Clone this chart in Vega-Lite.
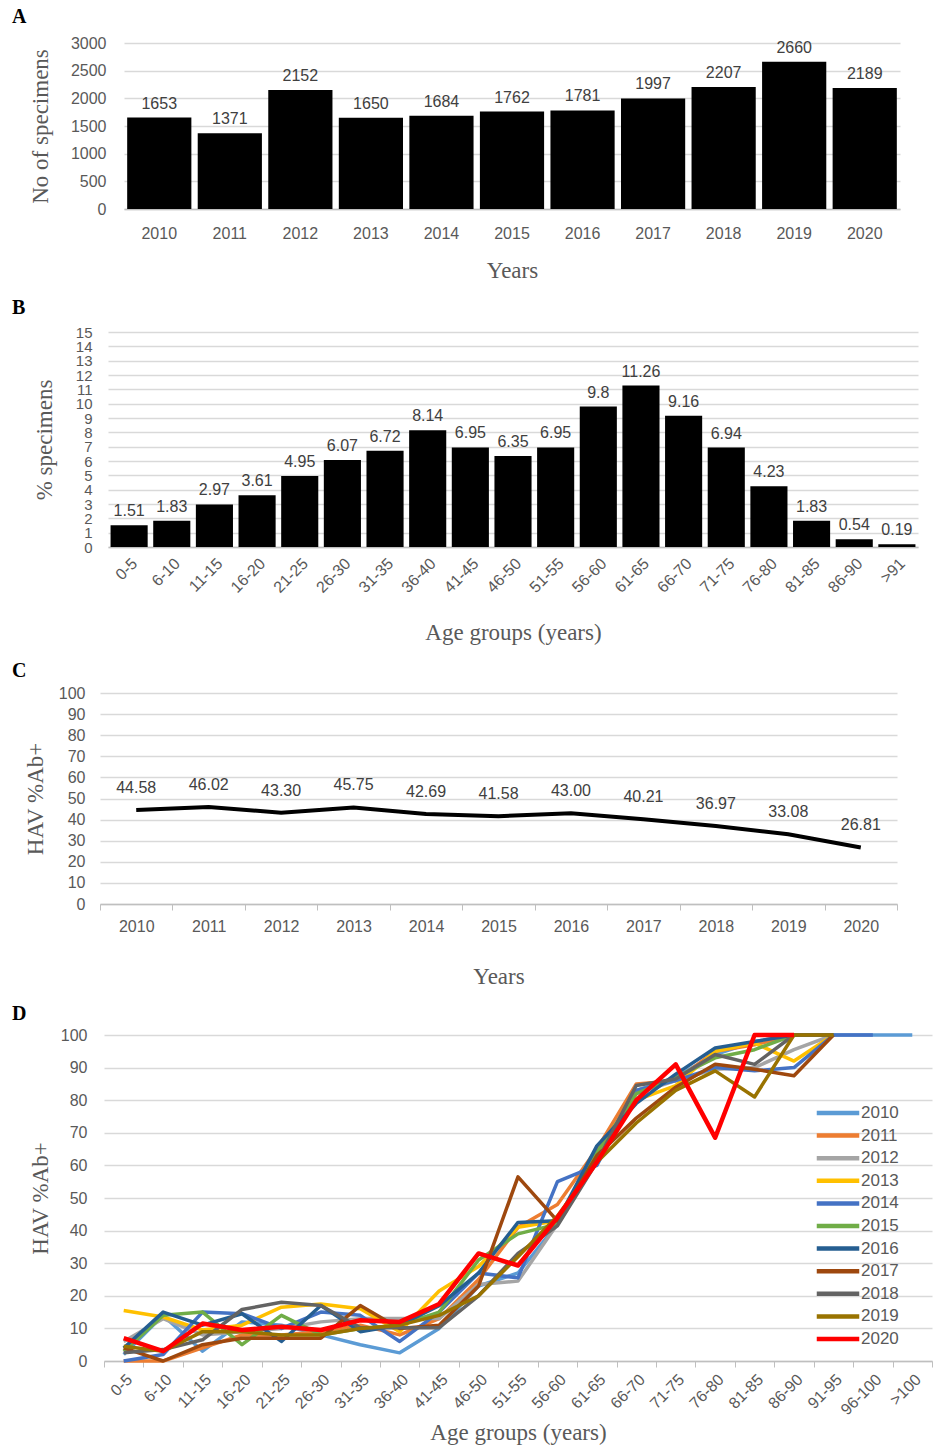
{
  "$schema": "https://vega.github.io/schema/vega-lite/v6.json",
  "background": "white",
  "padding": {"left": 12, "top": 7, "right": 0, "bottom": 0},
  "columns": 1,
  "align": "none",
  "spacing": 16,
  "resolve": {"legend": {"color": "independent"}},
  "config": {
    "view": {"stroke": null},
    "axis": {
      "labelFont": "Liberation Sans", "labelColor": "#595959", "labelFontSize": 16,
      "titleFont": "Liberation Serif", "titleColor": "#595959", "titleFontWeight": "normal", "titleFontSize": 23,
      "gridColor": "#D9D9D9", "gridWidth": 1.3, "domainColor": "#BFBFBF", "domainWidth": 1.3, "tickColor": "#BFBFBF"
    },
    "title": {"font": "Liberation Serif", "fontSize": 20, "fontWeight": "bold", "color": "black", "anchor": "start", "frame": "group"}
  },
  "concat": [
    {
      "title": {"text": "A", "offset": 8, "dx": -88},
      "width": 800, "height": 166,
      "data": {"values": [
        {"year": "2010", "n": 1653}, {"year": "2011", "n": 1371}, {"year": "2012", "n": 2152},
        {"year": "2013", "n": 1650}, {"year": "2014", "n": 1684}, {"year": "2015", "n": 1762},
        {"year": "2016", "n": 1781}, {"year": "2017", "n": 1997}, {"year": "2018", "n": 2207},
        {"year": "2019", "n": 2660}, {"year": "2020", "n": 2189}
      ]},
      "encoding": {
        "x": {"field": "year", "type": "ordinal", "scale": {"range": [24, 800], "paddingInner": 0.09, "paddingOuter": 0.045},
              "axis": {"labelAngle": 0, "title": "Years", "ticks": false, "labelPadding": 16, "titlePadding": 18}},
        "y": {"field": "n", "type": "quantitative", "scale": {"domain": [0, 3000]},
              "axis": {"values": [0, 500, 1000, 1500, 2000, 2500, 3000], "format": "d", "title": "No of specimens", "domain": false, "ticks": false, "offset": -24, "labelPadding": 18, "titlePadding": 18}}
      },
      "layer": [
        {"mark": {"type": "bar", "color": "black"}},
        {"mark": {"type": "text", "dy": -14, "font": "Liberation Sans", "fontSize": 16, "color": "#404040"},
         "encoding": {"text": {"field": "n", "type": "quantitative", "format": "d"}}}
      ]
    },
    {
      "title": {"text": "B", "offset": 7, "dx": -88},
      "width": 818, "height": 215,
      "data": {"values": [
        {"age": "0-5", "p": 1.51}, {"age": "6-10", "p": 1.83}, {"age": "11-15", "p": 2.97},
        {"age": "16-20", "p": 3.61}, {"age": "21-25", "p": 4.95}, {"age": "26-30", "p": 6.07},
        {"age": "31-35", "p": 6.72}, {"age": "36-40", "p": 8.14}, {"age": "41-45", "p": 6.95},
        {"age": "46-50", "p": 6.35}, {"age": "51-55", "p": 6.95}, {"age": "56-60", "p": 9.8},
        {"age": "61-65", "p": 11.26}, {"age": "66-70", "p": 9.16}, {"age": "71-75", "p": 6.94},
        {"age": "76-80", "p": 4.23}, {"age": "81-85", "p": 1.83}, {"age": "86-90", "p": 0.54},
        {"age": ">91", "p": 0.19}
      ]},
      "encoding": {
        "x": {"field": "age", "type": "ordinal", "sort": null, "scale": {"range": [8, 818], "paddingInner": 0.13, "paddingOuter": 0.06},
              "axis": {"labelAngle": -45, "title": "Age groups (years)", "ticks": false, "labelPadding": 8, "titlePadding": 26}},
        "y": {"field": "p", "type": "quantitative", "scale": {"domain": [0, 15]},
              "axis": {"values": [0,1,2,3,4,5,6,7,8,9,10,11,12,13,14,15], "labelOverlap": false, "labelFontSize": 15, "title": "% specimens", "domain": false, "ticks": false, "offset": -8, "labelPadding": 16, "titlePadding": 19}}
      },
      "layer": [
        {"mark": {"type": "bar", "color": "black"}},
        {"mark": {"type": "text", "dy": -14, "font": "Liberation Sans", "fontSize": 16, "color": "#404040"},
         "encoding": {"text": {"field": "p", "type": "nominal"}}}
      ]
    },
    {
      "title": {"text": "C", "offset": 4, "dx": -88},
      "width": 797, "height": 211,
      "data": {"values": [
        {"year": "2010", "v": 44.58}, {"year": "2011", "v": 46.02}, {"year": "2012", "v": 43.30},
        {"year": "2013", "v": 45.75}, {"year": "2014", "v": 42.69}, {"year": "2015", "v": 41.58},
        {"year": "2016", "v": 43.00}, {"year": "2017", "v": 40.21}, {"year": "2018", "v": 36.97},
        {"year": "2019", "v": 33.08}, {"year": "2020", "v": 26.81}
      ]},
      "encoding": {
        "x": {"field": "year", "type": "ordinal", "bandPosition": 0.5, "scale": {"type": "band", "paddingInner": 0, "paddingOuter": 0},
              "axis": {"labelAngle": 0, "title": "Years", "tickBand": "extent", "ticks": true, "tickSize": 6, "labelPadding": 8, "titlePadding": 31}},
        "y": {"field": "v", "type": "quantitative", "scale": {"domain": [0, 100]},
              "axis": {"values": [0,10,20,30,40,50,60,70,80,90,100], "title": "HAV %Ab+", "domain": false, "ticks": false, "labelPadding": 15, "titlePadding": 11}}
      },
      "layer": [
        {"mark": {"type": "line", "color": "black", "strokeWidth": 4}},
        {"mark": {"type": "text", "dy": -22, "font": "Liberation Sans", "fontSize": 16, "color": "#404040"},
         "encoding": {"text": {"field": "v", "type": "quantitative", "format": ".2f"}}}
      ]
    },
    {
      "title": {"text": "D", "offset": 3, "dx": -88},
      "width": 832, "height": 326,
      "data": {"values": [
        {"y":"2010","a":"0-5","v":2},{"y":"2010","a":"6-10","v":14},{"y":"2010","a":"11-15","v":3},{"y":"2010","a":"16-20","v":12},{"y":"2010","a":"21-25","v":11},{"y":"2010","a":"26-30","v":8},{"y":"2010","a":"31-35","v":5},{"y":"2010","a":"36-40","v":2.5},{"y":"2010","a":"41-45","v":10},{"y":"2010","a":"46-50","v":23},{"y":"2010","a":"51-55","v":27},{"y":"2010","a":"56-60","v":42},{"y":"2010","a":"61-65","v":63},{"y":"2010","a":"66-70","v":83},{"y":"2010","a":"71-75","v":87},{"y":"2010","a":"76-80","v":94},{"y":"2010","a":"81-85","v":98},{"y":"2010","a":"86-90","v":100},{"y":"2010","a":"91-95","v":100},{"y":"2010","a":"96-100","v":100},{"y":"2010","a":">100","v":100},
        {"y":"2011","a":"0-5","v":0},{"y":"2011","a":"6-10","v":0},{"y":"2011","a":"11-15","v":4},{"y":"2011","a":"16-20","v":8},{"y":"2011","a":"21-25","v":8},{"y":"2011","a":"26-30","v":9},{"y":"2011","a":"31-35","v":11},{"y":"2011","a":"36-40","v":8},{"y":"2011","a":"41-45","v":13},{"y":"2011","a":"46-50","v":25},{"y":"2011","a":"51-55","v":41},{"y":"2011","a":"56-60","v":48},{"y":"2011","a":"61-65","v":65},{"y":"2011","a":"66-70","v":85},{"y":"2011","a":"71-75","v":86},{"y":"2011","a":"76-80","v":95},{"y":"2011","a":"81-85","v":97},{"y":"2011","a":"86-90","v":100},{"y":"2011","a":"91-95","v":100},
        {"y":"2012","a":"0-5","v":6},{"y":"2012","a":"6-10","v":13},{"y":"2012","a":"11-15","v":8},{"y":"2012","a":"16-20","v":9},{"y":"2012","a":"21-25","v":10},{"y":"2012","a":"26-30","v":12},{"y":"2012","a":"31-35","v":13},{"y":"2012","a":"36-40","v":13},{"y":"2012","a":"41-45","v":13},{"y":"2012","a":"46-50","v":23.5},{"y":"2012","a":"51-55","v":24.5},{"y":"2012","a":"56-60","v":42},{"y":"2012","a":"61-65","v":62},{"y":"2012","a":"66-70","v":82},{"y":"2012","a":"71-75","v":86},{"y":"2012","a":"76-80","v":89.5},{"y":"2012","a":"81-85","v":90},{"y":"2012","a":"86-90","v":95.5},{"y":"2012","a":"91-95","v":100},
        {"y":"2013","a":"0-5","v":15.5},{"y":"2013","a":"6-10","v":13.5},{"y":"2013","a":"11-15","v":9.5},{"y":"2013","a":"16-20","v":11},{"y":"2013","a":"21-25","v":16.5},{"y":"2013","a":"26-30","v":17.5},{"y":"2013","a":"31-35","v":16},{"y":"2013","a":"36-40","v":9},{"y":"2013","a":"41-45","v":21.5},{"y":"2013","a":"46-50","v":29},{"y":"2013","a":"51-55","v":41},{"y":"2013","a":"56-60","v":43},{"y":"2013","a":"61-65","v":63},{"y":"2013","a":"66-70","v":80},{"y":"2013","a":"71-75","v":84.5},{"y":"2013","a":"76-80","v":95},{"y":"2013","a":"81-85","v":97.5},{"y":"2013","a":"86-90","v":92},{"y":"2013","a":"91-95","v":100},
        {"y":"2014","a":"0-5","v":0},{"y":"2014","a":"6-10","v":2},{"y":"2014","a":"11-15","v":15},{"y":"2014","a":"16-20","v":14.5},{"y":"2014","a":"21-25","v":10},{"y":"2014","a":"26-30","v":15},{"y":"2014","a":"31-35","v":14},{"y":"2014","a":"36-40","v":6},{"y":"2014","a":"41-45","v":15},{"y":"2014","a":"46-50","v":27},{"y":"2014","a":"51-55","v":25.5},{"y":"2014","a":"56-60","v":55},{"y":"2014","a":"61-65","v":60},{"y":"2014","a":"66-70","v":83},{"y":"2014","a":"71-75","v":86},{"y":"2014","a":"76-80","v":90},{"y":"2014","a":"81-85","v":89},{"y":"2014","a":"86-90","v":90},{"y":"2014","a":"91-95","v":100},{"y":"2014","a":"96-100","v":100},
        {"y":"2015","a":"0-5","v":3},{"y":"2015","a":"6-10","v":14},{"y":"2015","a":"11-15","v":15},{"y":"2015","a":"16-20","v":5},{"y":"2015","a":"21-25","v":14},{"y":"2015","a":"26-30","v":8},{"y":"2015","a":"31-35","v":10},{"y":"2015","a":"36-40","v":11},{"y":"2015","a":"41-45","v":15},{"y":"2015","a":"46-50","v":31},{"y":"2015","a":"51-55","v":39},{"y":"2015","a":"56-60","v":42},{"y":"2015","a":"61-65","v":64},{"y":"2015","a":"66-70","v":82},{"y":"2015","a":"71-75","v":87},{"y":"2015","a":"76-80","v":93},{"y":"2015","a":"81-85","v":95.5},{"y":"2015","a":"86-90","v":100},{"y":"2015","a":"91-95","v":100},
        {"y":"2016","a":"0-5","v":4},{"y":"2016","a":"6-10","v":15},{"y":"2016","a":"11-15","v":11},{"y":"2016","a":"16-20","v":14.5},{"y":"2016","a":"21-25","v":6},{"y":"2016","a":"26-30","v":17},{"y":"2016","a":"31-35","v":9},{"y":"2016","a":"36-40","v":11},{"y":"2016","a":"41-45","v":17},{"y":"2016","a":"46-50","v":27},{"y":"2016","a":"51-55","v":42.5},{"y":"2016","a":"56-60","v":43},{"y":"2016","a":"61-65","v":66},{"y":"2016","a":"66-70","v":79},{"y":"2016","a":"71-75","v":88},{"y":"2016","a":"76-80","v":96},{"y":"2016","a":"81-85","v":98},{"y":"2016","a":"86-90","v":100},{"y":"2016","a":"91-95","v":100},
        {"y":"2017","a":"0-5","v":4},{"y":"2017","a":"6-10","v":0},{"y":"2017","a":"11-15","v":5},{"y":"2017","a":"16-20","v":7},{"y":"2017","a":"21-25","v":7},{"y":"2017","a":"26-30","v":7},{"y":"2017","a":"31-35","v":17},{"y":"2017","a":"36-40","v":10},{"y":"2017","a":"41-45","v":11},{"y":"2017","a":"46-50","v":23},{"y":"2017","a":"51-55","v":56.5},{"y":"2017","a":"56-60","v":43},{"y":"2017","a":"61-65","v":63},{"y":"2017","a":"66-70","v":74.5},{"y":"2017","a":"71-75","v":84},{"y":"2017","a":"76-80","v":91},{"y":"2017","a":"81-85","v":89.5},{"y":"2017","a":"86-90","v":87.5},{"y":"2017","a":"91-95","v":100},
        {"y":"2018","a":"0-5","v":2.5},{"y":"2018","a":"6-10","v":3.5},{"y":"2018","a":"11-15","v":6.5},{"y":"2018","a":"16-20","v":15.8},{"y":"2018","a":"21-25","v":18},{"y":"2018","a":"26-30","v":17},{"y":"2018","a":"31-35","v":10.2},{"y":"2018","a":"36-40","v":10.2},{"y":"2018","a":"41-45","v":10.2},{"y":"2018","a":"46-50","v":20},{"y":"2018","a":"51-55","v":33},{"y":"2018","a":"56-60","v":41.5},{"y":"2018","a":"61-65","v":61},{"y":"2018","a":"66-70","v":84.5},{"y":"2018","a":"71-75","v":86.5},{"y":"2018","a":"76-80","v":94},{"y":"2018","a":"81-85","v":91},{"y":"2018","a":"86-90","v":100},{"y":"2018","a":"91-95","v":100},
        {"y":"2019","a":"0-5","v":4.5},{"y":"2019","a":"6-10","v":3},{"y":"2019","a":"11-15","v":9},{"y":"2019","a":"16-20","v":9},{"y":"2019","a":"21-25","v":8},{"y":"2019","a":"26-30","v":8},{"y":"2019","a":"31-35","v":10},{"y":"2019","a":"36-40","v":11},{"y":"2019","a":"41-45","v":14},{"y":"2019","a":"46-50","v":20},{"y":"2019","a":"51-55","v":32},{"y":"2019","a":"56-60","v":44.5},{"y":"2019","a":"61-65","v":61},{"y":"2019","a":"66-70","v":73},{"y":"2019","a":"71-75","v":83},{"y":"2019","a":"76-80","v":89},{"y":"2019","a":"81-85","v":81},{"y":"2019","a":"86-90","v":100},{"y":"2019","a":"91-95","v":100},
        {"y":"2020","a":"0-5","v":7},{"y":"2020","a":"6-10","v":3},{"y":"2020","a":"11-15","v":11.5},{"y":"2020","a":"16-20","v":9.5},{"y":"2020","a":"21-25","v":10.5},{"y":"2020","a":"26-30","v":9.5},{"y":"2020","a":"31-35","v":12.5},{"y":"2020","a":"36-40","v":12},{"y":"2020","a":"41-45","v":17.5},{"y":"2020","a":"46-50","v":33},{"y":"2020","a":"51-55","v":29.3},{"y":"2020","a":"56-60","v":44},{"y":"2020","a":"61-65","v":61},{"y":"2020","a":"66-70","v":80},{"y":"2020","a":"71-75","v":91},{"y":"2020","a":"76-80","v":68.5},{"y":"2020","a":"81-85","v":100},{"y":"2020","a":"86-90","v":100}
      ]},
      "mark": {"type": "line", "strokeJoin": "round"},
      "encoding": {
        "x": {"field": "a", "type": "ordinal", "bandPosition": 0.5,
              "scale": {"type": "band", "range": [4, 832], "paddingInner": 0, "paddingOuter": 0, "domain": ["0-5","6-10","11-15","16-20","21-25","26-30","31-35","36-40","41-45","46-50","51-55","56-60","61-65","66-70","71-75","76-80","81-85","86-90","91-95","96-100",">100"]},
              "axis": {"labelAngle": -45, "title": "Age groups (years)", "tickBand": "extent", "ticks": true, "tickSize": 6, "labelPadding": 4, "titlePadding": 4}},
        "y": {"field": "v", "type": "quantitative", "scale": {"domain": [0, 100]},
              "axis": {"values": [0,10,20,30,40,50,60,70,80,90,100], "title": "HAV %Ab+", "domain": false, "ticks": false, "offset": -4, "labelPadding": 17, "titlePadding": 8}},
        "color": {"field": "y", "type": "nominal",
                  "scale": {"domain": ["2010","2011","2012","2013","2014","2015","2016","2017","2018","2019","2020"],
                            "range": ["#5B9BD5","#ED7D31","#A5A5A5","#FFC000","#4472C4","#70AD47","#255E91","#9E480E","#636363","#997300","#FF0000"]},
                  "legend": {"orient": "none", "legendX": 727, "legendY": 67, "padding": 0, "title": null, "symbolType": "M-2.5,0H2.5", "symbolStrokeWidth": 4.5, "symbolSize": 289, "labelFontSize": 17, "labelFont": "Liberation Sans", "labelColor": "#595959", "rowPadding": 2.6, "labelOffset": 12}},
        "strokeWidth": {"condition": {"test": "datum.y === '2020'", "value": 4.5}, "value": 3.5},
        "order": {"value": null}
      }
    }
  ]
}
